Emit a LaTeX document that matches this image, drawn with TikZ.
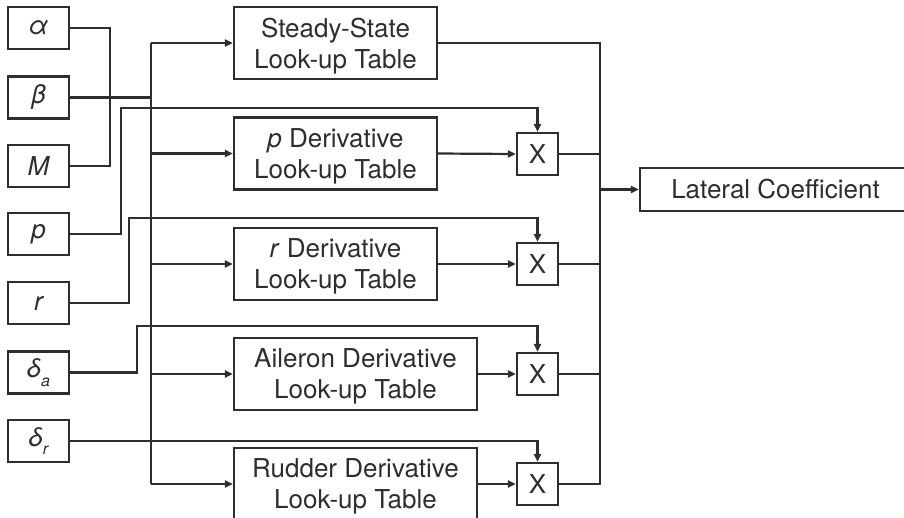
\documentclass[tikz,border=0pt]{standalone}
\usepackage{fontspec}
\setmainfont{TeX Gyre Heros}
\usetikzlibrary{arrows.meta}
\definecolor{ink}{HTML}{2E2E2E}
% subscripted italic symbol, e.g. \subsym{δ}{a}
\newcommand{\subsym}[2]{#1\raisebox{-0.32em}{\fontsize{16}{16}\selectfont #2}}
\begin{document}
\begin{tikzpicture}[x=1pt,y=-1pt,
  wire/.style={draw=ink, line width=2.2pt},
  arr/.style={wire, -{Triangle[length=8pt,width=7pt]}},
  inbox/.style={wire, fill=white, minimum width=61pt, minimum height=42pt,
    inner sep=0pt, text=ink, font=\fontsize{26}{30}\selectfont\itshape},
  tablebox/.style={wire, fill=white, minimum height=72pt, inner sep=0pt,
    text depth=0pt, align=center, text=ink, font=\fontsize{26}{31}\selectfont},
  multbox/.style={wire, fill=white, minimum width=41pt, minimum height=42pt,
    inner sep=0pt, text=ink, font=\fontsize{26}{30}\selectfont},
  outbox/.style={wire, fill=white, minimum width=271pt, minimum height=43pt,
    inner sep=0pt, text=ink, font=\fontsize{26}{30}\selectfont}]

\fill[white] (0,0) rectangle (904,517);
\clip (0,0) rectangle (904,517);

% input signals
\node[inbox] (alpha) at (38.5,28)  {α};
\node[inbox] (beta)  at (38.5,97.5) {β};
\node[inbox] (mach)  at (38.5,166) {M};
\node[inbox] (pin)   at (38.5,234) {p};
\node[inbox] (rin)   at (38.5,303) {r};
\node[inbox] (da)    at (38.5,372.5) {\subsym{δ}{a}};
\node[inbox] (dr)    at (38.5,441) {\subsym{δ}{r}};

% look-up tables
\node[tablebox, minimum width=203pt] (ss) at (335.5,43)  {Steady-State\\Look-up Table};
\node[tablebox, minimum width=203pt] (pt) at (335.5,153.5) {\textit{p} Derivative\\Look-up Table};
\node[tablebox, minimum width=203pt] (rt) at (335.5,264) {\textit{r} Derivative\\Look-up Table};
\node[tablebox, minimum width=243pt] (at) at (355.5,374) {Aileron Derivative\\Look-up Table};
\node[tablebox, minimum width=243pt] (rd) at (355.5,484) {Rudder Derivative\\Look-up Table};

% multipliers
\node[multbox] (x1) at (537.5,154) {X};
\node[multbox] (x2) at (537.5,264) {X};
\node[multbox] (x3) at (537.5,374) {X};
\node[multbox] (x4) at (537.5,484) {X};

% output
\node[outbox] (lat) at (775.5,189.5) {Lateral Coefficient};

% routing points
\coordinate (amx) at (110,0);
\coordinate (busx) at (151,0);
\coordinate (sumx) at (600,0);
\coordinate (pc) at (121,108);
\coordinate (rc) at (129,218);
\coordinate (dac) at (137,326);

% alpha and Mach joined into the table bus
\draw[wire] (alpha.east) -- (alpha.east -| amx) -- (mach.east -| amx) -- (mach.east);
\draw[wire] (beta.east) -- (beta.east -| busx);
\draw[wire] (ss.west -| busx) -- (rd.west -| busx);
\draw[arr] (ss.west -| busx) -- (ss.west);
\draw[arr] (pt.west -| busx) -- (pt.west);
\draw[arr] (rt.west -| busx) -- (rt.west);
\draw[arr] (at.west -| busx) -- (at.west);
\draw[arr] (rd.west -| busx) -- (rd.west);

% rates and deflections to the multipliers
\draw[arr] (pin.east) -| (pc) -| (x1.north);
\draw[arr] (rin.east) -| (rc) -| (x2.north);
\draw[arr] (da.east) -| (dac) -| (x3.north);
\draw[arr] (dr.east) -| (x4.north);

% table outputs to multipliers
\draw[arr] (pt.east) -- (x1.west);
\draw[arr] (rt.east) -- (x2.west);
\draw[arr] (at.east) -- (x3.west);
\draw[arr] (rd.east) -- (x4.west);

% summation into the lateral coefficient
\draw[wire] (ss.east) -- (ss.east -| sumx) -- (x4.east -| sumx) -- (x4.east);
\draw[wire] (x1.east) -- (x1.east -| sumx);
\draw[wire] (x2.east) -- (x2.east -| sumx);
\draw[wire] (x3.east) -- (x3.east -| sumx);
\draw[arr] (lat.west -| sumx) -- (lat.west);
\end{tikzpicture}
\end{document}
